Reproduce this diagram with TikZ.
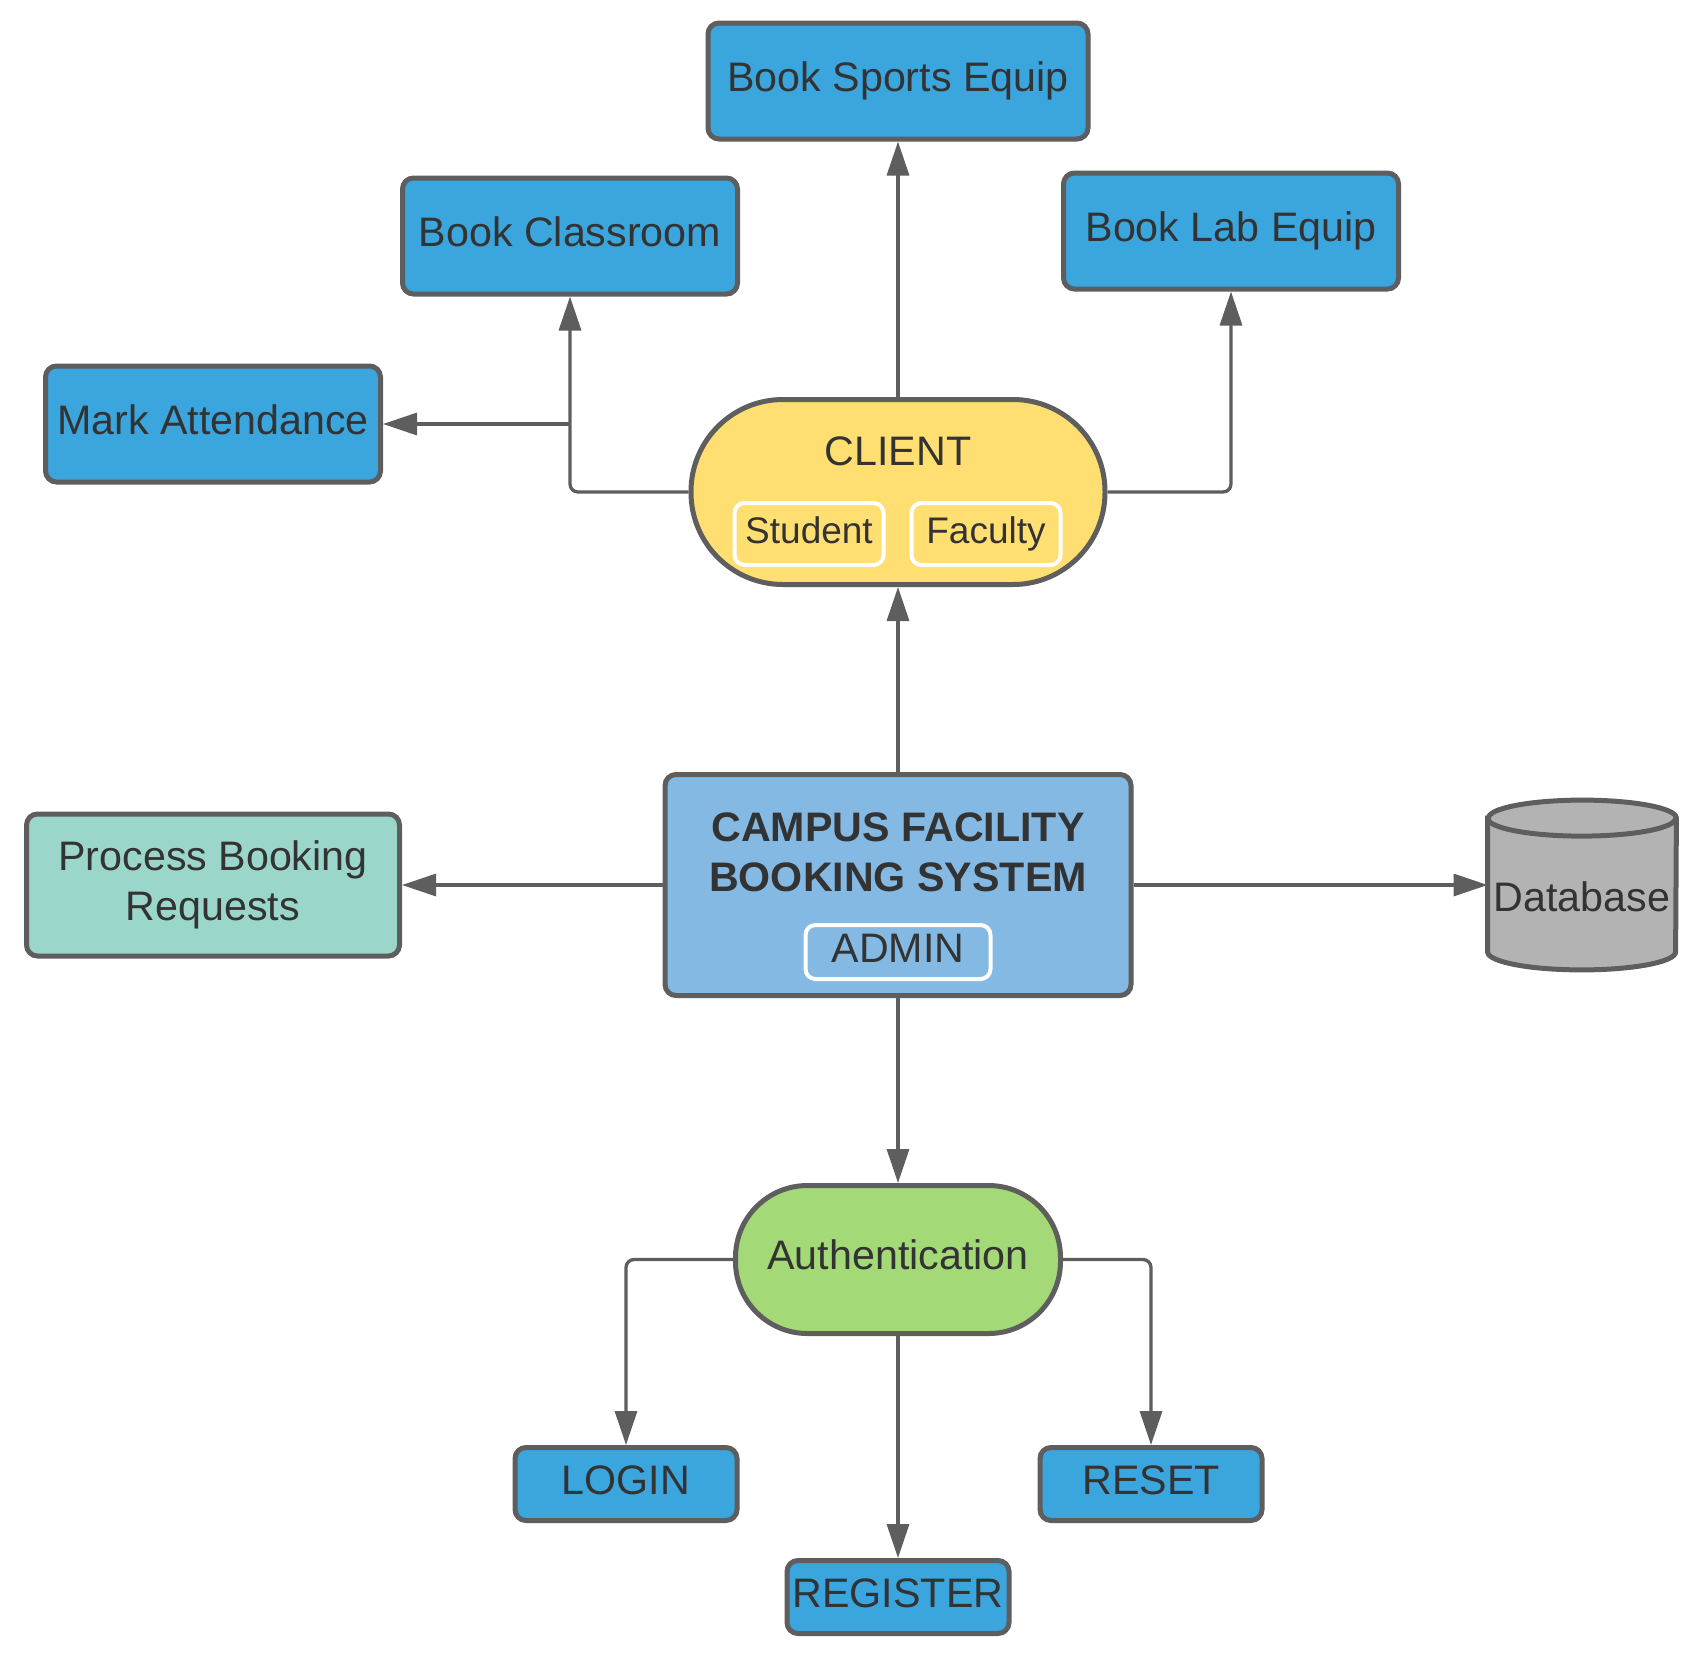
\documentclass[tikz,border=0pt]{standalone}
\usepackage{fontspec}
\setmainfont{Liberation Sans}
\usetikzlibrary{arrows.meta,calc}

\definecolor{linegray}{HTML}{5E5E5E}
\definecolor{textgray}{HTML}{333333}
\definecolor{taskblue}{HTML}{3BA5DD}
\definecolor{sysblue}{HTML}{83B9E3}
\definecolor{tealbox}{HTML}{9AD6CA}
\definecolor{clientyellow}{HTML}{FFDF71}
\definecolor{authgreen}{HTML}{A3D977}
\definecolor{dbgray}{HTML}{B3B3B3}

\begin{document}
\begin{tikzpicture}[x=0.5pt,y=-0.5pt,
  txt/.style={text=textgray, font=\fontsize{20.6pt}{24.7pt}\selectfont,
    text height=15.5pt, text depth=5.25pt, inner sep=0pt},
  box/.style={txt, draw=linegray, line width=2.5pt, rounded corners=5.5pt},
  task/.style={box, fill=taskblue, minimum width=167.5pt, minimum height=58pt},
  small/.style={box, fill=taskblue, minimum width=111pt, minimum height=36.5pt},
  tag/.style={txt, draw=white, line width=2pt, rounded corners=5pt},
  conn/.style={draw=linegray, line width=1.65pt, rounded corners=4pt,
    -{Triangle[length=17pt,width=11pt]}}
]

% Page
\useasboundingbox (0,0) rectangle (1699,1661);

% Booking tasks
\node[task, minimum width=190pt] (sports) at (898,81) {Book Sports Equip};
\node[task] (classroom) at (570,236) {Book Classroom};
\node[task] (lab) at (1231,231) {Book Lab Equip};
\node[task] (attend) at (213,424) {Mark Attendance};

% Client
\node[box, fill=clientyellow, minimum width=207pt, minimum height=92.5pt,
  rounded corners=46pt] (client) at (898,492) {};
\node[txt] (clientlbl) at (898,455) {CLIENT};
\node[tag, fill=clientyellow, minimum width=74.5pt, minimum height=31pt,
  font=\fontsize{18.5pt}{22pt}\selectfont, text height=14pt, text depth=4.5pt] (student) at (809,534) {Student};
\node[tag, fill=clientyellow, minimum width=74.5pt, minimum height=31pt,
  font=\fontsize{18.5pt}{22pt}\selectfont, text height=14pt, text depth=4.5pt] (faculty) at (986,534) {Faculty};

% System
\node[box, fill=sysblue, minimum width=233pt, minimum height=110.5pt] (sys) at (898,885) {};
\node[text=textgray, align=center, inner sep=0pt,
  font=\bfseries\fontsize{20.6pt}{25pt}\selectfont] (systitle) at (898,852)
  {CAMPUS FACILITY\\BOOKING SYSTEM};
\node[tag, fill=sysblue, minimum width=92.5pt, minimum height=27pt] (admin) at (898,952) {ADMIN};

% Side boxes
\node[box, fill=tealbox, minimum width=186.5pt, minimum height=71pt, align=center,
  text height=, text depth=] (process) at (213,885)
  {Process Booking\\Requests};
\node[minimum width=94pt, minimum height=84.5pt, inner sep=0pt] (db) at (1582,885) {};
\draw[fill=dbgray, draw=linegray, line width=2.5pt]
  ($(db.north west)+(0,18)$) -- ($(db.south west)-(0,18)$)
  arc[start angle=180, end angle=360, x radius=47pt, y radius=9pt]
  -- ($(db.north east)+(0,18)$)
  arc[start angle=0, end angle=180, x radius=47pt, y radius=9pt] -- cycle;
\draw[draw=linegray, line width=2.5pt] ($(db.north west)+(0,18)$)
  arc[start angle=180, end angle=360, x radius=47pt, y radius=9pt];
\node[txt] (dblbl) at (1582,901) {Database};

% Authentication
\node[box, fill=authgreen, minimum width=162.5pt, minimum height=74pt,
  rounded corners=36pt] (auth) at (898,1259.5) {Authentication};
\node[small] (login) at (626,1484) {LOGIN};
\node[small] (reset) at (1151,1484) {RESET};
\node[small] (register) at (898,1597) {REGISTER};

% Connectors
\draw[conn] (client.north) -- (sports.south);
\draw[conn] (client.west) -| (classroom.south);
\draw[conn] (classroom.south |- attend.east) -- (attend.east);
\draw[conn] (client.east) -| (lab.south);
\draw[conn] (sys.north) -- (client.south);
\draw[conn] (sys.west) -- (process.east);
\draw[conn] (sys.east) -- (db.west);
\draw[conn] (sys.south) -- (auth.north);
\draw[conn] (auth.west) -| (login.north);
\draw[conn] (auth.east) -| (reset.north);
\draw[conn] (auth.south) -- (register.north);

\end{tikzpicture}
\end{document}
